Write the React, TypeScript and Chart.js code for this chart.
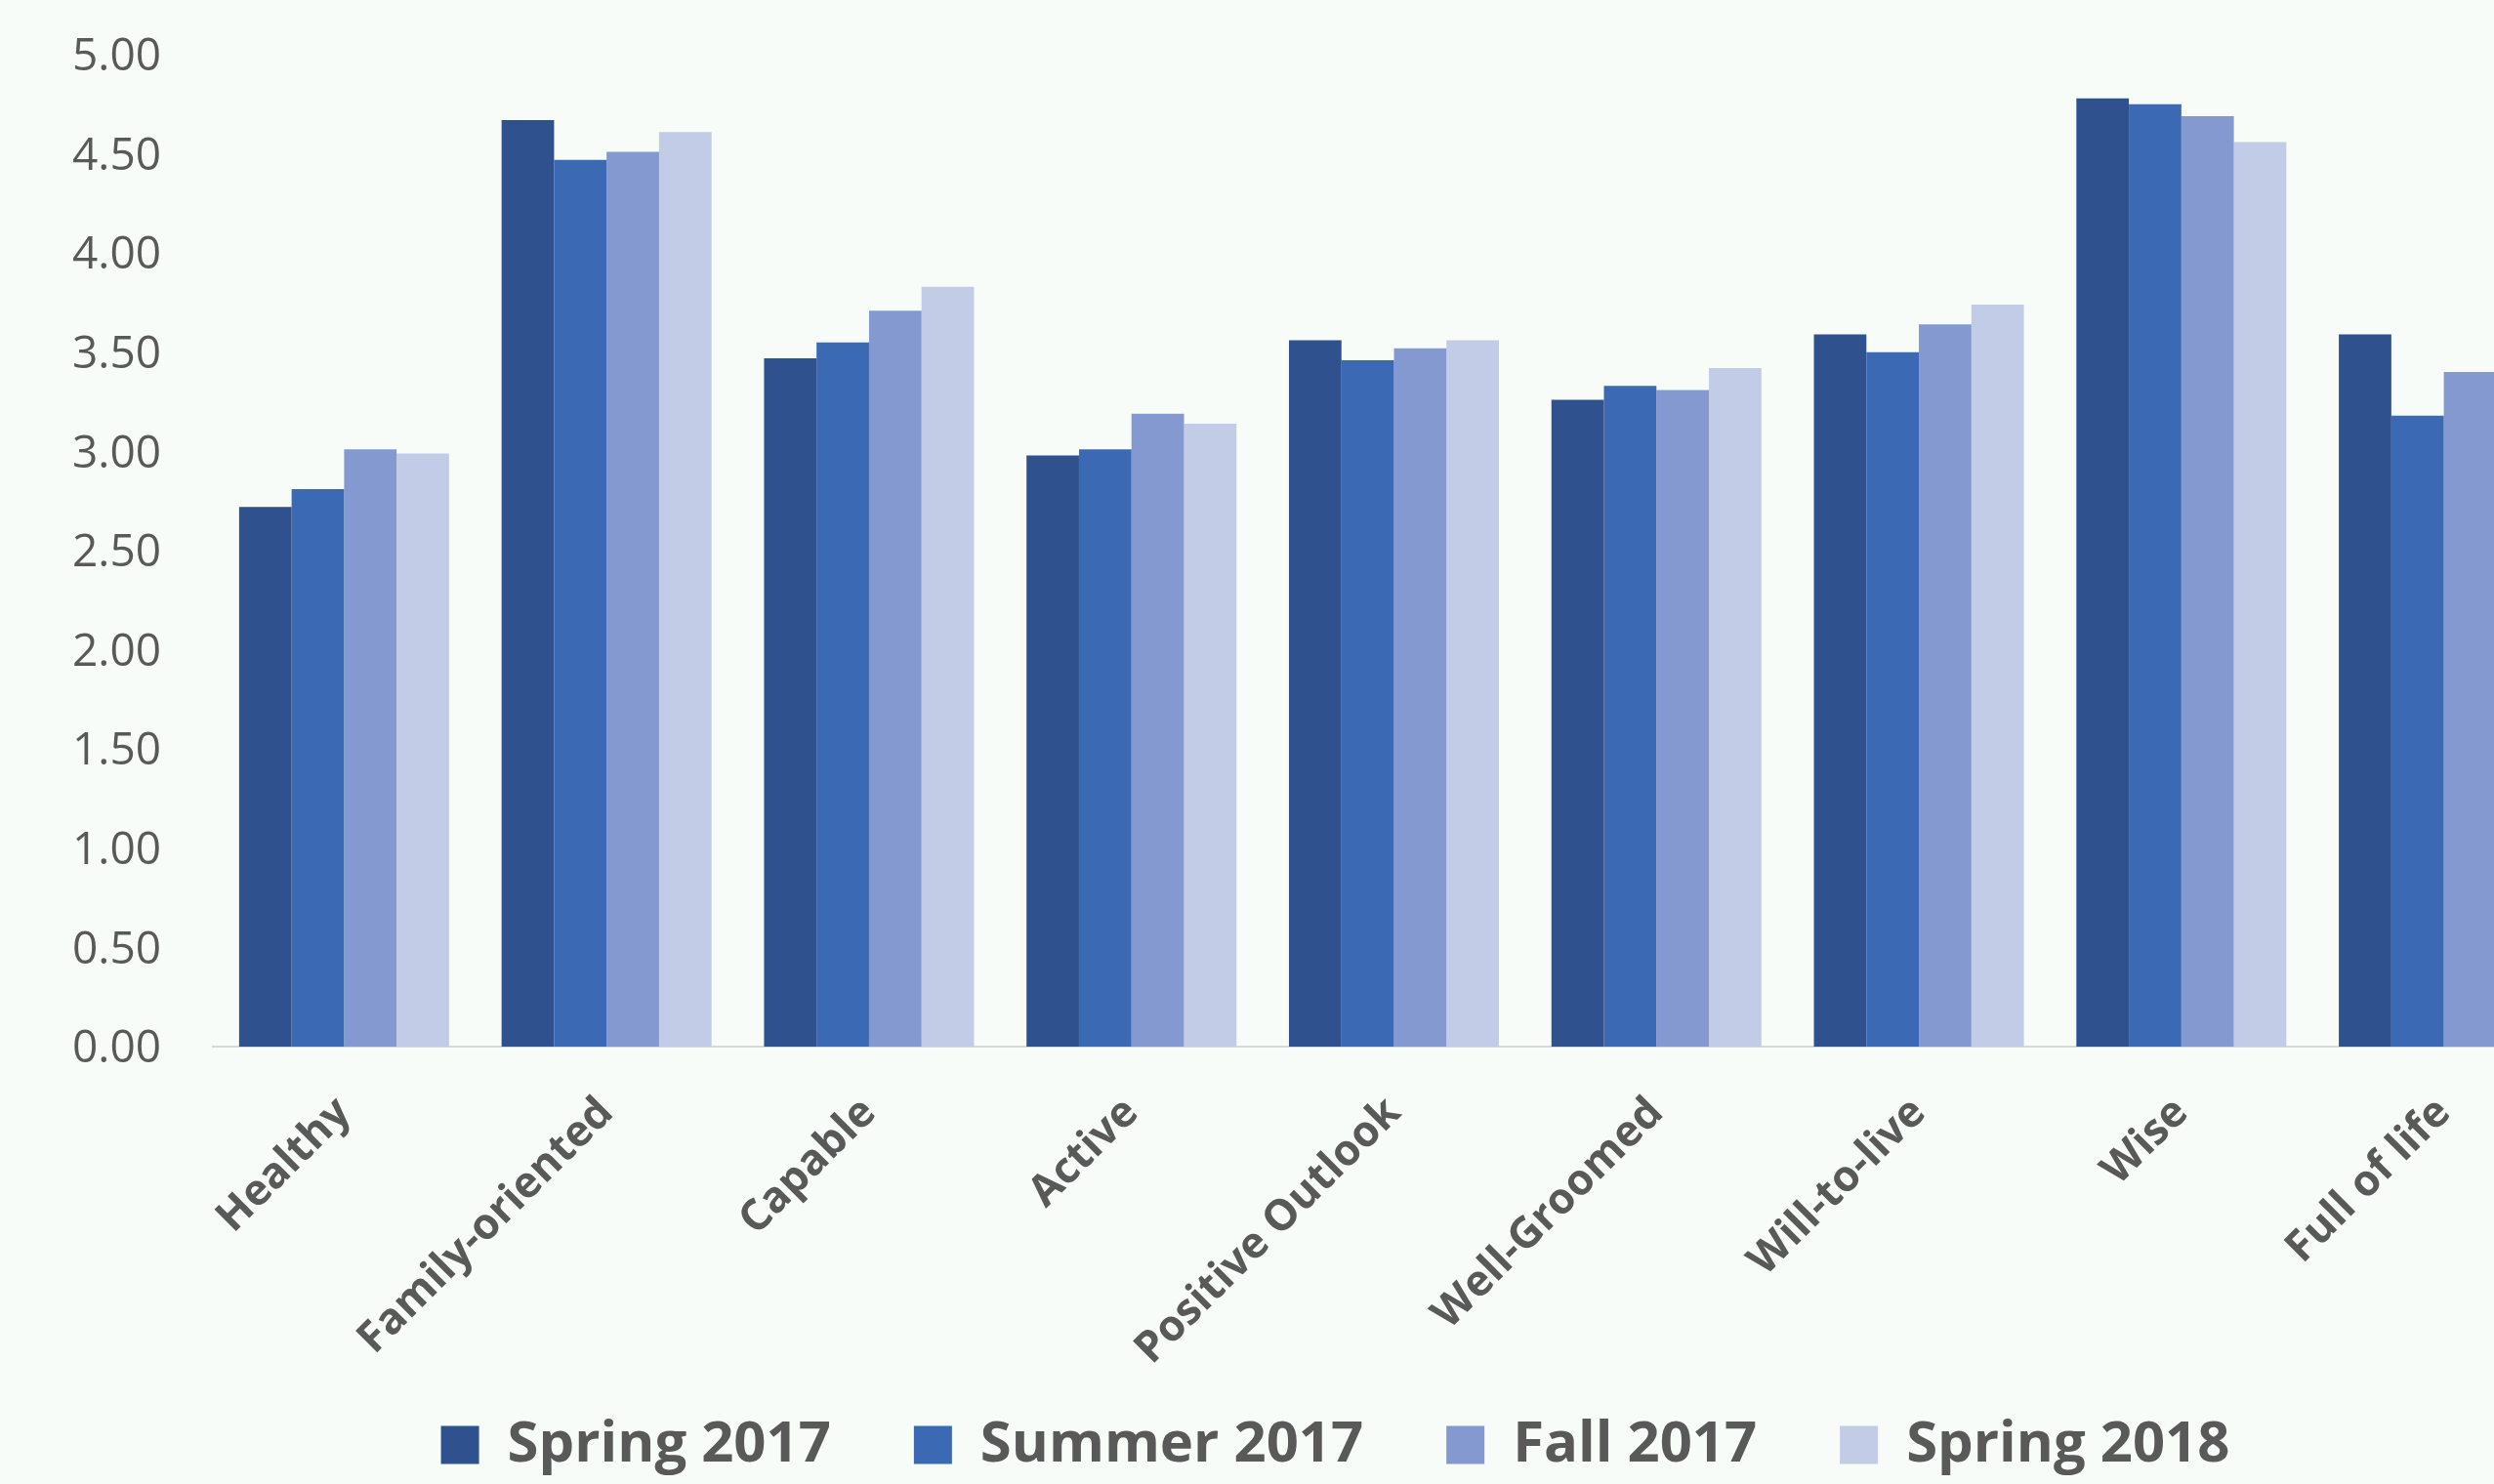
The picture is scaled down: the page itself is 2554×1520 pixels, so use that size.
import React, { useEffect, useRef } from "react";
import { Chart, registerables } from "chart.js";

Chart.register(...registerables);

const categories = [
  "Healthy",
  "Family-oriented",
  "Capable",
  "Active",
  "Positive Outlook",
  "Well-Groomed",
  "Will-to-live",
  "Wise",
  "Full of life",
];

const seriesNames = ["Spring 2017", "Summer 2017", "Fall 2017", "Spring 2018"];

const spring2017 = [2.72, 4.67, 3.47, 2.98, 3.56, 3.26, 3.59, 4.78, 3.59];
const summer2017 = [2.81, 4.47, 3.55, 3.01, 3.46, 3.33, 3.5, 4.75, 3.18];
const fall2017 = [3.01, 4.51, 3.71, 3.19, 3.52, 3.31, 3.64, 4.69, 3.4];
const spring2018 = [2.99, 4.61, 3.83, 3.14, 3.56, 3.42, 3.74, 4.56, 3.55];

const seriesColors = ["#2F528F", "#3C69B3", "#8399CF", "#C2CCE6"];

const yMin = 0;
const yMax = 5;
const yStep = 0.5;

const textColor = "#595959";
const bgColor = "#F7FCF8";
const fontFamily = "'Open Sans', 'Noto Sans', sans-serif";

// moves the legend block to where the reference places it
const legendPlacement = {
  id: "legendPlacement",
  afterLayout(chart: any) {
    const l = chart.legend;
    if (!l) return;
    const dx = 12;
    const dy = -46;
    l.left += dx;
    l.right += dx;
    l.top += dy;
    l.bottom += dy;
  },
};

export default function App() {
  const ref = useRef<HTMLCanvasElement>(null);

  useEffect(() => {
    document.body.style.margin = "0";
    document.body.style.overflow = "hidden";
    const values = [spring2017, summer2017, fall2017, spring2018];
    const chart = new Chart(ref.current as HTMLCanvasElement, {
      type: "bar",
      data: {
        labels: categories,
        datasets: seriesNames.map((name, i) => ({
          label: name,
          data: values[i],
          backgroundColor: seriesColors[i],
          borderWidth: 0,
          barPercentage: 1,
          categoryPercentage: 0.8,
        })),
      },
      plugins: [legendPlacement],
      options: {
        responsive: false,
        animation: false,
        devicePixelRatio: 1,
        layout: { padding: { left: 74, top: 56, right: 0, bottom: 0 } },
        plugins: {
          legend: {
            position: "bottom",
            labels: {
              boxWidth: 39,
              boxHeight: 39,
              padding: 85,
              color: textColor,
              font: { family: fontFamily, size: 58, weight: "bold" },
            },
          },
          tooltip: { enabled: false },
        },
        scales: {
          x: {
            grid: { display: false, drawTicks: false, tickLength: 0 },
            border: { display: true, color: "#D9D9D9", width: 2 },
            ticks: {
              autoSkip: false,
              maxRotation: 45,
              minRotation: 45,
              padding: 42,
              color: textColor,
              font: { family: fontFamily, size: 44, weight: "bold" },
            },
            afterFit: (s: any) => {
              s.height = 340;
            },
          },
          y: {
            min: yMin,
            max: yMax,
            grid: { display: false, drawTicks: false, tickLength: 0 },
            border: { display: false },
            ticks: {
              stepSize: yStep,
              padding: 0,
              crossAlign: "far",
              labelOffset: 3,
              color: textColor,
              font: { family: fontFamily, size: 46 },
              callback: (v: any) => Number(v).toFixed(2),
            },
            afterFit: (s: any) => {
              s.width = 144;
            },
          },
        },
      },
    });
    return () => chart.destroy();
  }, []);

  return (
    <div
      style={{
        position: "absolute",
        left: 0,
        top: 0,
        width: 2554,
        height: 1520,
        overflow: "hidden",
        background: bgColor,
      }}
    >
      <canvas ref={ref} width={2637} height={1565} style={{ display: "block" }} />
    </div>
  );
}
